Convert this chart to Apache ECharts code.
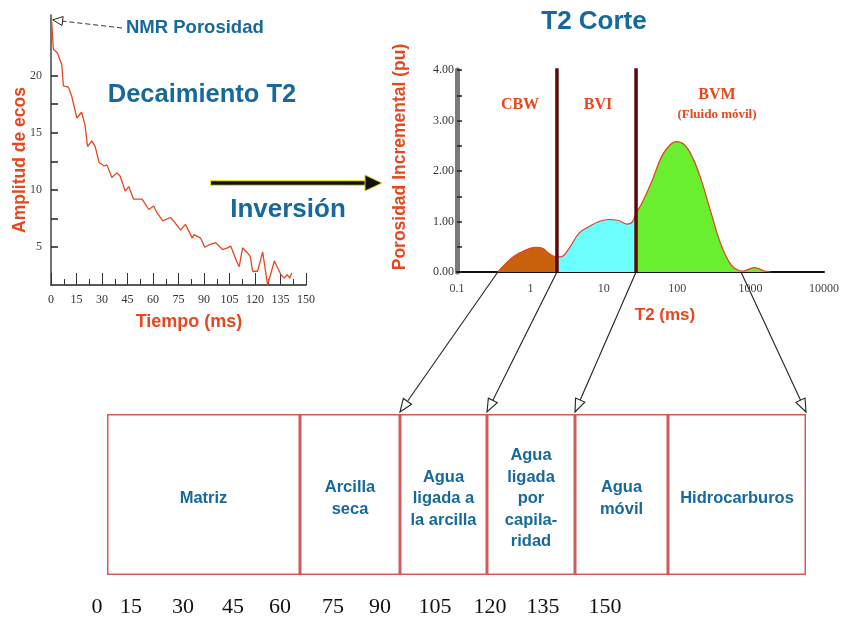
<!DOCTYPE html>
<html>
<head>
<meta charset="utf-8">
<script src="https://cdn.jsdelivr.net/npm/echarts@6/dist/echarts.min.js"></script>
<style>
  html, body { margin: 0; padding: 0; background: #fff; }
  #main { width: 842px; height: 620px; }
</style>
</head>
<body>
<div id="main"></div>
<script>
// decaimiento T2 (izquierda)
var decayTime = [0.4, 1.4, 3.7, 6.3, 7.3, 10.2, 12.2, 15.2, 18, 20, 21.5, 24, 26, 28.3, 31.3, 32.9, 35.8, 38.8, 40.7, 43.7,
    45.7, 48.6, 53.6, 57.5, 60.4, 62.4, 65.8, 70.3, 72.1, 76.2, 79.1, 83.1, 84.1, 88, 90.4, 92.9, 96.9, 100.9, 103.8, 105.7,
    107.7, 109.7, 110.7, 112.7, 115.6, 117.2, 118.6, 121.5, 124.5, 127.4, 131.4, 135.3, 137.3, 138.9, 140.4, 141.6];
var decayAmp = [24.7, 22.3, 22, 21, 19.1, 19, 18.2, 16.3, 16.8, 15.7, 13.8, 14.3, 13.8, 12.4, 12.1, 12.2, 11.1, 11.5, 11.2, 9.9,
    10.3, 9.2, 9.2, 8.3, 8.6, 8, 7.3, 7.6, 7.3, 6.5, 7, 5.8, 6.1, 5.8, 5, 5.2, 5.4, 4.8, 4.95, 5.1,
    4.35, 3.6, 3.3, 4.95, 4.5, 4.2, 2.9, 2.9, 4.6, 1.7, 3.8, 2.6, 2.3, 2.6, 2.3, 2.75];
var ampLabels = [5, 10, 15, 20];
var ampTicks = [5, 7.5, 10, 12.5, 15, 17.5, 20];

// distribucion T2 (derecha)
var t2 = [0.36, 0.58, 0.875, 1.19, 1.47, 1.81, 2.3, 2.6, 3.37, 4.6, 6.3, 8.6, 11.7, 15.9, 20.6, 24.1, 27.5, 33, 45, 61,
    79, 98, 127, 164, 213, 291, 398, 542, 667, 777, 1120, 1550, 1870];
var porInc = [0, 0.30, 0.44, 0.49, 0.47, 0.36, 0.30, 0.30, 0.47, 0.77, 0.90, 1.0, 1.04, 1.02, 0.95, 0.98, 1.16, 1.36, 1.79, 2.28,
    2.51, 2.58, 2.51, 2.25, 1.82, 1.16, 0.53, 0.14, 0.04, 0.02, 0.085, 0.02, 0];
var cutCBW = 2.3;
var cutBVI = 27.5;
var porTicks = [0, 0.5, 1, 1.5, 2, 2.5, 3, 3.5, 4];

// zonas (abajo)
var zoneNames = ['Matriz', 'Arcilla\nseca', 'Agua\nligada a\nla arcilla', 'Agua\nligada\npor\ncapila-\nridad', 'Agua\nmóvil', 'Hidrocarburos'];
var zoneWidths = [193, 100, 87, 88, 93, 138];
var scaleLabels = ['0', '15', '30', '45', '60', '75', '90', '105', '120', '135', '150'];
var scaleLabelX = [97, 131, 183, 233, 280, 333, 380, 435, 490, 543, 605];

var teal = '#16699b';
var red = '#e8461e';
var sans = 'Liberation Sans';
var serif = 'Liberation Serif';

var myChart = echarts.init(document.getElementById('main'));

var decayData = decayTime.map(function (t, i) { return [t, decayAmp[i]]; });
var t2Data = t2.map(function (t, i) { return [t, porInc[i]]; });
var zoneTotal = zoneWidths.reduce(function (a, b) { return a + b; }, 0);

var zoneSeries = zoneNames.map(function (name, i) {
    return {
        name: name,
        type: 'bar',
        stack: 'zonas',
        xAxisIndex: 2,
        yAxisIndex: 2,
        barWidth: '100%',
        data: [zoneWidths[i]],
        itemStyle: { color: '#fff', borderColor: '#d35a5a', borderWidth: 1.5 },
        label: {
            show: true,
            position: 'inside',
            offset: [0, 4],
            formatter: name,
            color: teal,
            fontFamily: sans,
            fontWeight: 'bold',
            fontSize: 16.5,
            lineHeight: 21.5
        },
        silent: true
    };
});

var cutSeries = [cutCBW, cutBVI].map(function (c) {
    return {
        name: 'corte ' + c,
        type: 'line',
        xAxisIndex: 1,
        yAxisIndex: 1,
        data: [[c, 0], [c, 4.05]],
        showSymbol: false,
        lineStyle: { color: '#5c0808', width: 3.5 },
        z: 5,
        silent: true
    };
});

option = {
    animation: false,
    grid: [
        { left: 51, top: 15, width: 255, height: 270 },
        { left: 457, top: 70, width: 370, height: 202 },
        { left: 107, top: 414, width: 699, height: 161 }
    ],
    xAxis: [{
        gridIndex: 0,
        type: 'value',
        min: 0,
        max: 150,
        interval: 15,
        axisLine: { lineStyle: { color: '#222', width: 1.5 } },
        axisTick: { inside: true, length: 12, lineStyle: { color: '#333' } },
        minorTick: { show: true, splitNumber: 2, length: 6, lineStyle: { color: '#333' } },
        splitLine: { show: false },
        axisLabel: { color: '#333', fontFamily: serif, fontSize: 12, margin: 9 }
    }, {
        gridIndex: 1,
        type: 'log',
        logBase: 10,
        min: 0.1,
        max: 10000,
        axisLine: { lineStyle: { color: '#111', width: 2 } },
        axisTick: { show: false },
        splitLine: { show: false },
        axisLabel: {
            color: '#444', fontFamily: serif, fontSize: 12, margin: 11,
            formatter: function (v) { return String(v); }
        }
    }, {
        gridIndex: 2,
        type: 'value',
        min: 0,
        max: zoneTotal,
        show: false
    }],
    yAxis: [{
        gridIndex: 0,
        type: 'value',
        min: 1.7,
        max: 25.3,
        axisLine: { show: true, lineStyle: { color: '#444', width: 1.5 } },
        axisTick: { show: true, inside: true, length: 7, customValues: ampTicks, lineStyle: { color: '#222', width: 1.5 } },
        splitLine: { show: false },
        axisLabel: { customValues: ampLabels, color: '#444', fontFamily: serif, fontSize: 12, margin: 9 }
    }, {
        gridIndex: 1,
        type: 'value',
        min: 0,
        max: 4,
        interval: 1,
        axisLine: { show: true, lineStyle: { color: '#7a7a7a', width: 5 } },
        axisTick: { show: true, inside: true, length: 5, customValues: porTicks, lineStyle: { color: '#222', width: 1.5 } },
        splitLine: { show: false },
        axisLabel: {
            color: '#333', fontFamily: serif, fontSize: 12, margin: 3,
            formatter: function (v) { return v.toFixed(2); }
        }
    }, {
        gridIndex: 2,
        type: 'category',
        data: ['zonas'],
        show: false
    }],
    visualMap: {
        type: 'piecewise',
        show: false,
        dimension: 0,
        seriesIndex: 1,
        pieces: [
            { lt: cutCBW, color: '#c8620c' },
            { gte: cutCBW, lt: cutBVI, color: '#6cfdfd' },
            { gte: cutBVI, color: '#6aef2e' }
        ]
    },
    series: [{
        name: 'Decaimiento',
        type: 'line',
        xAxisIndex: 0,
        yAxisIndex: 0,
        data: decayData,
        showSymbol: false,
        lineStyle: { color: red, width: 1.3 },
        silent: true
    }, {
        name: 'Relleno',
        type: 'line',
        xAxisIndex: 1,
        yAxisIndex: 1,
        data: t2Data,
        smooth: 0.4,
        showSymbol: false,
        lineStyle: { width: 0 },
        areaStyle: { opacity: 1 },
        silent: true
    }, {
        name: 'Distribucion T2',
        type: 'line',
        xAxisIndex: 1,
        yAxisIndex: 1,
        data: t2Data,
        smooth: 0.4,
        showSymbol: false,
        lineStyle: { color: '#e0402a', width: 1.2 },
        silent: true
    }].concat(cutSeries, zoneSeries)
};

myChart.setOption(option);

// flechas y textos
function head(tip, from, len, half) {
    var dx = tip[0] - from[0], dy = tip[1] - from[1];
    var d = Math.sqrt(dx * dx + dy * dy);
    var ux = dx / d, uy = dy / d;
    var bx = tip[0] - ux * len, by = tip[1] - uy * len;
    return [[tip[0], tip[1]], [bx - uy * half, by + ux * half], [bx + uy * half, by - ux * half]];
}

function txt(text, x, y, size, color, family, extra, align) {
    var el = {
        type: 'text', x: x, y: y, silent: true,
        style: { text: text, fill: color, font: 'bold ' + size + 'px "' + family + '"', align: align || 'center', verticalAlign: 'middle' }
    };
    for (var k in extra) el[k] = extra[k];
    return el;
}

var graphics = [];

// NMR Porosidad
var first = myChart.convertToPixel({ xAxisIndex: 0, yAxisIndex: 0 }, decayData[0]);
var nmrTip = [first[0] + 1, first[1] - 2];
var nmrFrom = [122, 28];
graphics.push({ type: 'line', silent: true, shape: { x1: nmrFrom[0], y1: nmrFrom[1], x2: nmrTip[0] + 8, y2: nmrTip[1] + 1 },
    style: { stroke: '#333', lineWidth: 1, lineDash: [5, 3] } });
graphics.push({ type: 'polygon', silent: true, shape: { points: head(nmrTip, nmrFrom, 10, 4.5) }, style: { fill: '#fff', stroke: '#222', lineWidth: 1 } });
graphics.push(txt('NMR Porosidad', 126, 28, 18.5, teal, sans, {}, 'left'));

graphics.push(txt('Decaimiento T2', 202, 95, 25.5, teal, sans));
graphics.push(txt('Inversión', 288, 210, 26, teal, sans));
graphics.push(txt('T2 Corte', 594, 22, 26, teal, sans));

// flecha Inversion
graphics.push({ type: 'line', silent: true, shape: { x1: 210, y1: 183, x2: 368, y2: 183 }, style: { stroke: '#e8e020', lineWidth: 6 } });
graphics.push({ type: 'line', silent: true, shape: { x1: 211, y1: 183, x2: 368, y2: 183 }, style: { stroke: '#111', lineWidth: 3.5 } });
graphics.push({ type: 'polygon', silent: true, shape: { points: [[365, 175], [382, 183], [365, 191]] }, style: { fill: '#111', stroke: '#d8d020', lineWidth: 1 } });

// nombres de ejes
graphics.push(txt('Amplitud de ecos', 20, 160, 17.5, red, sans, { rotation: Math.PI / 2 }));
graphics.push(txt('Tiempo (ms)', 189, 322, 18, red, sans));
graphics.push(txt('Porosidad Incremental (pu)', 400, 157, 17.5, red, sans, { rotation: Math.PI / 2 }));
graphics.push(txt('T2 (ms)', 665, 315, 17, red, sans));

// etiquetas de zonas T2
graphics.push(txt('CBW', 520, 105, 16, red, serif));
graphics.push(txt('BVI', 598, 105, 16, red, serif));
graphics.push(txt('BVM', 717, 95, 16, red, serif));
graphics.push(txt('(Fluido móvil)', 717, 115, 13, red, serif));

// flechas hacia las zonas
var arrowFrom = [t2[0], cutCBW, cutBVI, 740];
var arrowTo = [2, 3, 4, 6];
arrowFrom.forEach(function (v, i) {
    var p0 = myChart.convertToPixel({ xAxisIndex: 1, yAxisIndex: 1 }, [v, 0]);
    var cum = 0;
    for (var j = 0; j < arrowTo[i]; j++) cum += zoneWidths[j];
    var p1 = myChart.convertToPixel({ xAxisIndex: 2, yAxisIndex: 2 }, [cum, 'zonas']);
    var tip = [p1[0], 412];
    graphics.push({ type: 'line', silent: true, shape: { x1: p0[0], y1: p0[1], x2: tip[0] + (p0[0] - tip[0]) * 0.08, y2: tip[1] - 140 * 0.08 },
        style: { stroke: '#222', lineWidth: 1.1 } });
    graphics.push({ type: 'polygon', silent: true, shape: { points: head(tip, p0, 13, 5) }, style: { fill: '#fff', stroke: '#222', lineWidth: 1.1 } });
});

// escala inferior
scaleLabels.forEach(function (s, i) {
    graphics.push({ type: 'text', x: scaleLabelX[i], y: 607, silent: true,
        style: { text: s, fill: '#111', font: '22px "Liberation Serif"', align: 'center', verticalAlign: 'middle' } });
});

myChart.setOption({ graphic: graphics });
</script>
</body>
</html>
